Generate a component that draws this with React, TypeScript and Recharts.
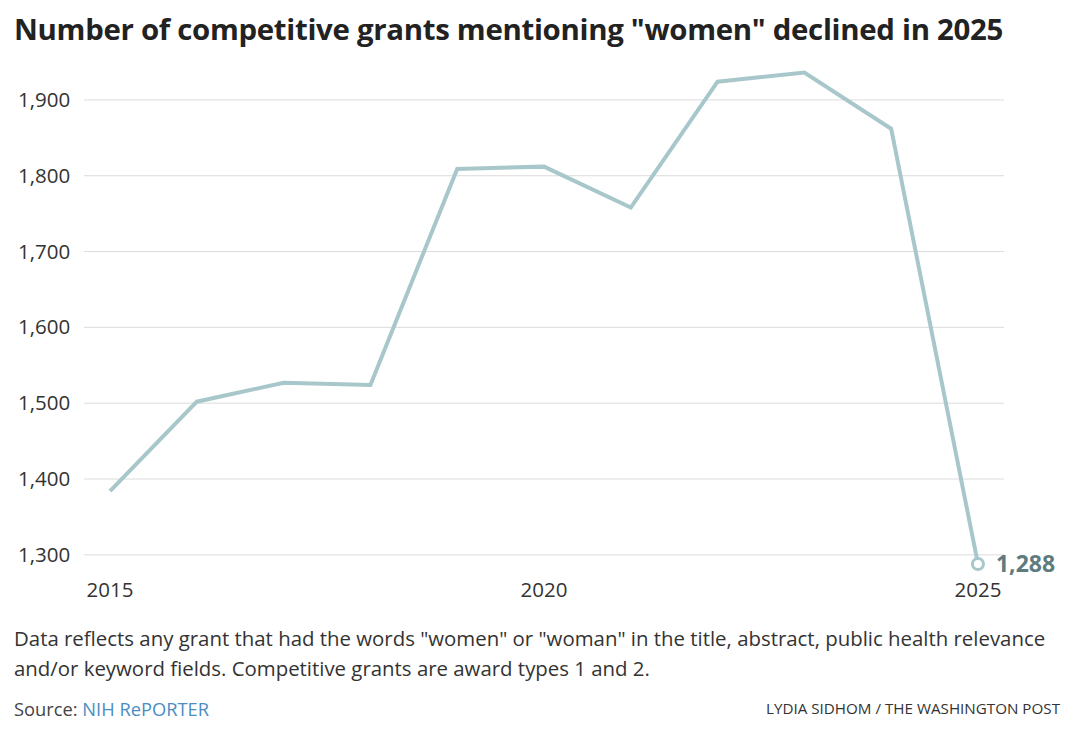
import React from 'react';
import { LineChart, Line, XAxis, YAxis, ReferenceLine, LabelList } from 'recharts';

const years = [2015, 2016, 2017, 2018, 2019, 2020, 2021, 2022, 2023, 2024, 2025];
const grants = [1384, 1502, 1527, 1524, 1809, 1812, 1758, 1924, 1936, 1862, 1288];
const yTicks = [1300, 1400, 1500, 1600, 1700, 1800, 1900];
const xTicks = [2015, 2020, 2025];

const data = years.map((year, i) => ({ year, grants: grants[i] }));

const LINE = '#a8c7cb';
const FONT = '"Open Sans", "Noto Sans", sans-serif';

const YTick = (props: any) => {
  const { y, payload } = props;
  return (
    <text x={18} y={y} dy={7} textAnchor="start" fill="#333" fontSize={20.5} fontFamily={FONT}>
      {payload.value.toLocaleString('en-US')}
    </text>
  );
};

const EndDot = (props: any) => {
  const { cx, cy, index } = props;
  if (index !== years.length - 1) return null;
  return <circle cx={cx} cy={cy} r={5.5} fill="#fff" stroke={LINE} strokeWidth={3} />;
};

const EndLabel = (props: any) => {
  const { x, y, value, index } = props;
  if (index !== years.length - 1) return null;
  return (
    <text x={x + 18} y={y} dy={8} fill="#5e7c80" fontSize={23} fontWeight={700} fontFamily={FONT}>
      {Number(value).toLocaleString('en-US')}
    </text>
  );
};

export default function App() {
  return (
    <div style={{ position: 'absolute', left: 0, top: 0, width: 1080, height: 738, background: '#fff', fontFamily: FONT, color: '#333' }}>
      <div style={{ position: 'absolute', left: 14, top: 9, fontSize: 29.4, fontWeight: 700, color: '#222', whiteSpace: 'nowrap', letterSpacing: -0.3 }}>
        Number of competitive grants mentioning "women" declined in 2025
      </div>
      <div style={{ position: 'absolute', left: 0, top: 0 }}>
        <LineChart width={1080} height={610} data={data} margin={{ top: 62, right: 76, bottom: 10, left: 18 }}>
          {yTicks.map((t) => (
            <ReferenceLine key={t} y={t} stroke="#dcdcdc" strokeWidth={1} />
          ))}
          <XAxis
            dataKey="year"
            type="number"
            domain={[2014.7, 2025.3]}
            ticks={xTicks}
            axisLine={false}
            tickLine={false}
            height={30}
            tick={{ fill: '#333', fontSize: 20.5, fontFamily: FONT }}
            tickMargin={6}
          />
          <YAxis
            type="number"
            domain={[1280, 1950]}
            ticks={yTicks}
            width={66}
            axisLine={false}
            tickLine={false}
            tick={<YTick />}
          />
          <Line
            type="linear"
            dataKey="grants"
            stroke={LINE}
            strokeWidth={4}
            dot={<EndDot />}
            activeDot={false}
            isAnimationActive={false}
          >
            <LabelList dataKey="grants" content={<EndLabel />} />
          </Line>
        </LineChart>
      </div>
      <div style={{ position: 'absolute', left: 14, top: 623, width: 1050, fontSize: 20.4, lineHeight: '30px', color: '#333' }}>
        Data reflects any grant that had the words "women" or "woman" in the title, abstract, public health relevance and/or keyword fields. Competitive grants are award types 1 and 2.
      </div>
      <div style={{ position: 'absolute', left: 14, top: 696, fontSize: 18.3, color: '#444' }}>
        Source: <span style={{ color: '#4b8ec4' }}>NIH RePORTER</span>
      </div>
      <div style={{ position: 'absolute', right: 20, top: 698, fontSize: 15.2, color: '#333', whiteSpace: 'nowrap' }}>
        LYDIA SIDHOM / THE WASHINGTON POST
      </div>
    </div>
  );
}
